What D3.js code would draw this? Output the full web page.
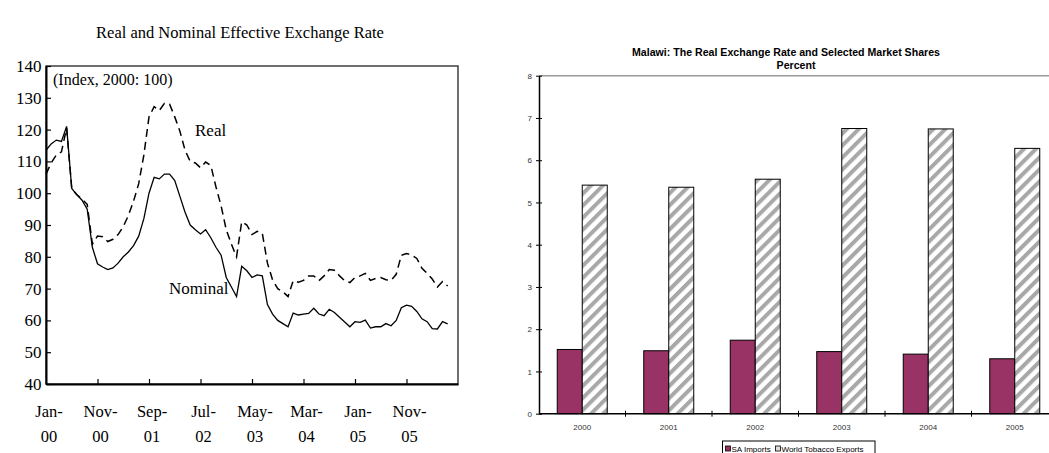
<!DOCTYPE html>
<html>
<head>
<meta charset="utf-8">
<script src="https://cdn.jsdelivr.net/npm/d3@7"></script>
<style>
  html, body { margin: 0; padding: 0; background: #fff; }
  svg { display: block; }
</style>
</head>
<body>
<svg id="chart" width="1049" height="453"></svg>
<script>
// ---- Left panel: monthly effective exchange rate indices, Jan-2000 onward ----
const nominalIndex = [
  113.5, 115.5, 116.7, 116.3, 121.0, 101.5, 99.5, 97.8, 95.0, 83.0,
  77.8, 76.8, 76.0, 76.5, 78.0, 80.0, 81.5, 83.5, 86.5, 92.0,
  100.0, 105.0, 104.5, 106.0, 106.0, 104.0, 99.0, 94.0, 90.0, 88.5,
  87.2, 88.5, 86.0, 83.0, 80.5, 73.5, 70.5, 67.5, 77.0, 75.6,
  73.5, 74.3, 74.0, 65.0, 62.0, 60.0, 59.0, 58.0, 62.3, 61.7,
  62.0, 62.2, 63.8, 62.0, 61.5, 63.5, 62.5, 61.0, 59.5, 58.0,
  59.6, 59.4, 60.1, 57.6, 58.0, 58.0, 59.0, 58.3, 60.0, 64.0,
  64.8, 64.4, 62.8, 60.5, 59.6, 57.4, 57.3, 59.6, 58.9
];
const realIndex = [
  106.0, 109.5, 112.0, 113.0, 120.5, 101.5, 99.5, 98.2, 96.5, 84.0,
  86.5, 86.3, 84.8, 85.5, 87.0, 89.5, 93.0, 97.5, 103.0, 112.0,
  124.0, 127.2, 126.0, 128.3, 128.0, 124.0, 119.5, 113.5, 110.0, 109.5,
  108.0, 109.8, 108.7, 102.0, 96.0, 88.5, 84.0, 80.0, 91.0, 90.0,
  87.0, 88.0, 87.4, 78.0, 72.7, 70.0, 69.0, 67.5, 72.5, 72.0,
  72.6, 74.0, 74.0, 72.5, 74.0, 76.0, 75.8, 74.0, 72.5, 71.9,
  73.5, 74.0, 74.8, 72.6, 73.2, 73.5, 72.8, 72.6, 74.5, 80.5,
  81.0, 80.6, 79.5, 76.4, 74.8, 73.0, 70.5, 72.2, 70.8
];
const leftYTicks = [40, 50, 60, 70, 80, 90, 100, 110, 120, 130, 140];
const leftXTickMonths = [0, 10, 20, 30, 40, 50, 60, 70];
const leftXTickLabels = [["Jan-", "00"], ["Nov-", "00"], ["Sep-", "01"], ["Jul-", "02"],
                         ["May-", "03"], ["Mar-", "04"], ["Jan-", "05"], ["Nov-", "05"]];

// ---- Right panel: market shares (percent) ----
const years = ["2000", "2001", "2002", "2003", "2004", "2005"];
const saImports = [1.52, 1.49, 1.74, 1.47, 1.41, 1.30];
const tobaccoExports = [5.41, 5.36, 5.55, 6.75, 6.74, 6.28];
const rightYTicks = [0, 1, 2, 3, 4, 5, 6, 7, 8];
const seriesNames = ["SA Imports", "World Tobacco Exports"];

const svg = d3.select("#chart");
const serif = "'Liberation Serif', 'Times New Roman', serif";
const sans = "'Liberation Sans', Arial, sans-serif";

// ================= Left panel =================
const L = { left: 46, right: 458, top: 66, bottom: 384 };
const xL = d3.scaleLinear().domain([0, 80]).range([L.left, L.right]);
const yL = d3.scaleLinear().domain([40, 140]).range([L.bottom, L.top]);

svg.append("text")
  .attr("x", 240).attr("y", 38)
  .attr("text-anchor", "middle")
  .style("font-family", serif).style("font-size", "16.5px")
  .text("Real and Nominal Effective Exchange Rate");

// plot frame
svg.append("rect")
  .attr("x", L.left).attr("y", L.top)
  .attr("width", L.right - L.left).attr("height", L.bottom - L.top)
  .attr("fill", "none").attr("stroke", "#333").attr("stroke-width", 1.4);

const yAxisL = svg.append("g")
  .attr("transform", `translate(${L.left},0)`)
  .call(d3.axisLeft(yL).tickValues(leftYTicks).tickSizeInner(-5).tickSizeOuter(0).tickPadding(4.5));
yAxisL.select(".domain").attr("stroke", "#000").attr("stroke-width", 2);
yAxisL.selectAll(".tick line").attr("stroke", "#000").attr("stroke-width", 1.2);
yAxisL.selectAll(".tick text")
  .style("font-family", serif).style("font-size", "17px").attr("fill", "#000");

const xAxisL = svg.append("g")
  .attr("transform", `translate(0,${L.bottom})`)
  .call(d3.axisBottom(xL).tickValues(leftXTickMonths.slice(1)).tickSizeInner(-5).tickSizeOuter(0).tickFormat(""));
xAxisL.select(".domain").attr("stroke", "#000").attr("stroke-width", 2);
xAxisL.selectAll(".tick line").attr("stroke", "#000").attr("stroke-width", 1.2);

const xLab = svg.append("g");
leftXTickMonths.forEach((m, i) => {
  const t = xLab.append("text")
    .attr("text-anchor", "middle")
    .style("font-family", serif).style("font-size", "16.5px");
  t.append("tspan").attr("x", xL(m) + 3).attr("y", 417).text(leftXTickLabels[i][0]);
  t.append("tspan").attr("x", xL(m) + 3).attr("y", 442).text(leftXTickLabels[i][1]);
});

const lineL = d3.line().x((d, i) => xL(i)).y(d => yL(d));
svg.append("path").datum(realIndex)
  .attr("d", lineL).attr("fill", "none").attr("stroke", "#000")
  .attr("stroke-width", 1.5).attr("stroke-dasharray", "8,5");
svg.append("path").datum(nominalIndex)
  .attr("d", lineL).attr("fill", "none").attr("stroke", "#000")
  .attr("stroke-width", 1.3);

svg.append("text").attr("x", 53).attr("y", 85)
  .style("font-family", serif).style("font-size", "16px")
  .text("(Index, 2000: 100)");
svg.append("text").attr("x", 195).attr("y", 136)
  .style("font-family", serif).style("font-size", "17px")
  .text("Real");
svg.append("text").attr("x", 169).attr("y", 294)
  .style("font-family", serif).style("font-size", "17px")
  .text("Nominal");

// ================= Right panel =================
const R = { left: 539, right: 1058, top: 75.7, bottom: 413.7 };
const defs = svg.append("defs");
const hatch = defs.append("pattern")
  .attr("id", "diag-hatch").attr("patternUnits", "userSpaceOnUse")
  .attr("width", 8.5).attr("height", 8.5)
  .attr("patternTransform", "rotate(45)");
hatch.append("rect").attr("width", 8.5).attr("height", 8.5).attr("fill", "#fff");
hatch.append("rect").attr("x", 0).attr("y", 0).attr("width", 4).attr("height", 8.5).attr("fill", "#a8a8a8");

const x0R = d3.scaleBand().domain(years).range([R.left, R.right])
  .paddingInner(0.422).paddingOuter(0.211);
const x1R = d3.scaleBand().domain(seriesNames).range([0, x0R.bandwidth()]);
const yR = d3.scaleLinear().domain([0, 8]).range([R.bottom, R.top]);
const fills = ["#993366", "url(#diag-hatch)"];

svg.append("text").attr("x", 786).attr("y", 56)
  .attr("text-anchor", "middle")
  .style("font-family", sans).style("font-size", "10.6px").style("font-weight", "bold")
  .text("Malawi: The Real Exchange Rate and Selected Market Shares");
svg.append("text").attr("x", 796).attr("y", 69)
  .attr("text-anchor", "middle")
  .style("font-family", sans).style("font-size", "10.6px").style("font-weight", "bold")
  .text("Percent");

// top border of plot area
svg.append("line")
  .attr("x1", R.left).attr("x2", R.right).attr("y1", R.top).attr("y2", R.top)
  .attr("stroke", "#999").attr("stroke-width", 1.5);

const groups = svg.append("g").selectAll("g").data(years).join("g")
  .attr("transform", d => `translate(${x0R(d)},0)`);
groups.selectAll("rect")
  .data((d, i) => [saImports[i], tobaccoExports[i]].map((v, k) => ({ v, k })))
  .join("rect")
  .attr("x", d => x1R(seriesNames[d.k]))
  .attr("width", x1R.bandwidth())
  .attr("y", d => yR(d.v))
  .attr("height", d => yR(0) - yR(d.v))
  .attr("fill", d => fills[d.k])
  .attr("stroke", "#000").attr("stroke-width", 1);

const yAxisR = svg.append("g")
  .attr("transform", `translate(${R.left},0)`)
  .call(d3.axisLeft(yR).tickValues(rightYTicks).tickSize(3).tickSizeOuter(0).tickPadding(4));
yAxisR.select(".domain").attr("stroke", "#000").attr("stroke-width", 1.5);
yAxisR.selectAll(".tick line").attr("stroke", "#000").attr("x2", 3).attr("x1", -3);
yAxisR.selectAll(".tick text")
  .style("font-family", sans).style("font-size", "8px").attr("fill", "#333");

const xAxisR = svg.append("g")
  .attr("transform", `translate(0,${R.bottom})`);
xAxisR.append("line").attr("x1", R.left).attr("x2", R.right)
  .attr("stroke", "#000").attr("stroke-width", 1.5);
xAxisR.selectAll(".sep").data(d3.range(1, years.length + 1)).join("line")
  .attr("class", "sep")
  .attr("x1", i => R.left + i * x0R.step()).attr("x2", i => R.left + i * x0R.step())
  .attr("y1", -3).attr("y2", 3).attr("stroke", "#000");
xAxisR.selectAll(".yl").data(years).join("text")
  .attr("class", "yl")
  .attr("x", d => x0R(d) + x0R.bandwidth() / 2).attr("y", 16)
  .attr("text-anchor", "middle")
  .style("font-family", sans).style("font-size", "8px").attr("fill", "#333")
  .text(d => d);

// legend
const lg = svg.append("g");
lg.append("rect").attr("x", 722.5).attr("y", 441).attr("width", 152.5).attr("height", 14)
  .attr("fill", "#fff").attr("stroke", "#000").attr("stroke-width", 1);
lg.append("rect").attr("x", 725.5).attr("y", 446).attr("width", 5).attr("height", 5)
  .attr("fill", fills[0]).attr("stroke", "#000").attr("stroke-width", 0.8);
lg.append("text").attr("x", 731.5).attr("y", 452)
  .style("font-family", sans).style("font-size", "8px").text(seriesNames[0]);
lg.append("rect").attr("x", 775.5).attr("y", 446).attr("width", 5).attr("height", 5)
  .attr("fill", "#ddd").attr("stroke", "#000").attr("stroke-width", 0.8);
lg.append("text").attr("x", 781.5).attr("y", 452)
  .style("font-family", sans).style("font-size", "8px").text(seriesNames[1]);
</script>
</body>
</html>
